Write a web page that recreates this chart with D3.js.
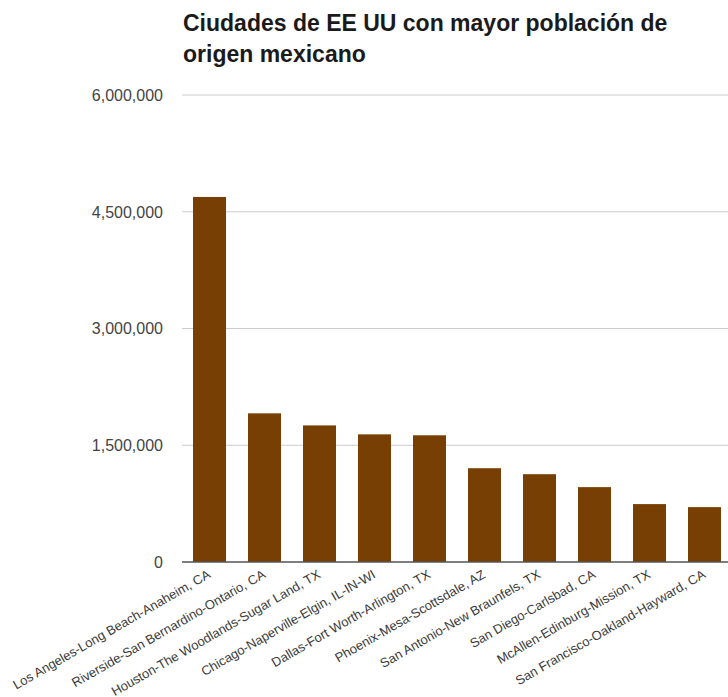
<!DOCTYPE html>
<html>
<head>
<meta charset="utf-8">
<script src="https://cdn.jsdelivr.net/npm/d3@7"></script>
<style>
  body { margin: 0; background: #fff; }
  svg { display: block; font-family: "Liberation Sans", Arial, sans-serif; }
</style>
</head>
<body>
<div id="chart"></div>
<script>
// city names + mexican-origin population
const cities = [
  'Los Angeles-Long Beach-Anaheim, CA',
  'Riverside-San Bernardino-Ontario, CA',
  'Houston-The Woodlands-Sugar Land, TX',
  'Chicago-Naperville-Elgin, IL-IN-WI',
  'Dallas-Fort Worth-Arlington, TX',
  'Phoenix-Mesa-Scottsdale, AZ',
  'San Antonio-New Braunfels, TX',
  'San Diego-Carlsbad, CA',
  'McAllen-Edinburg-Mission, TX',
  'San Francisco-Oakland-Hayward, CA'
]
const poblacion = [4690000, 1910000, 1755000, 1640000, 1628000, 1205000, 1128000, 962000, 744000, 705000]
const yTicks = [0, 1500000, 3000000, 4500000, 6000000]
const titleLines = ['Ciudades de EE UU con mayor población de', 'origen mexicano']

const W = 728, H = 697
const margin = {top: 95, left: 182, bottom: 135}
const plotW = 550
const h = H - margin.top - margin.bottom   // 467

let svg = d3.select('#chart').append('svg')
  .attr('width', W).attr('height', H)

svg.append('text')
  .attr('x', 183).attr('y', 31)
  .attr('font-size', '23px').attr('font-weight', 'bold').attr('fill', '#1a1a1a')
  .selectAll('tspan').data(titleLines).enter().append('tspan')
  .attr('x', 183).attr('dy', (d, i) => i ? 31 : 0)
  .text(d => d)

let g = svg.append('g').attr('transform', 'translate(' + margin.left + ',' + margin.top + ')')

let yScale = d3.scaleLinear().domain([0, 6000000]).range([h, 0])
let x = d3.scaleBand().domain(cities).range([0, plotW]).paddingInner(0.4).paddingOuter(0.2)

// gridlines
g.selectAll('.grid').data(yTicks.filter(d => d > 0)).enter().append('line')
  .attr('x1', 0).attr('x2', W - margin.left)
  .attr('y1', d => yScale(d)).attr('y2', d => yScale(d))
  .attr('stroke', '#cccccc').attr('stroke-width', 1)

// y labels
g.selectAll('.ylab').data(yTicks).enter().append('text')
  .attr('x', -19).attr('y', d => yScale(d))
  .attr('dy', '0.36em')
  .attr('text-anchor', 'end')
  .attr('font-size', '16px').attr('fill', '#444')
  .text(d => d3.format(',')(d))

// bars
g.selectAll('rect').data(poblacion).enter().append('rect')
  .attr('x', (d, i) => x(cities[i]))
  .attr('y', d => yScale(d))
  .attr('width', x.bandwidth())
  .attr('height', d => h - yScale(d))
  .attr('fill', '#773f03')

// baseline
g.append('line')
  .attr('x1', 0).attr('x2', W - margin.left)
  .attr('y1', h).attr('y2', h)
  .attr('stroke', '#555').attr('stroke-width', 1.5)

// rotated category labels
g.selectAll('.xlab').data(cities).enter().append('text')
  .attr('transform', d => 'translate(' + (x(d) + x.bandwidth() / 2 + 2) + ',' + (h + 15) + ') rotate(-30)')
  .attr('text-anchor', 'end')
  .attr('font-size', '13px').attr('fill', '#3a3a3a')
  .text(d => d)
</script>
</body>
</html>
